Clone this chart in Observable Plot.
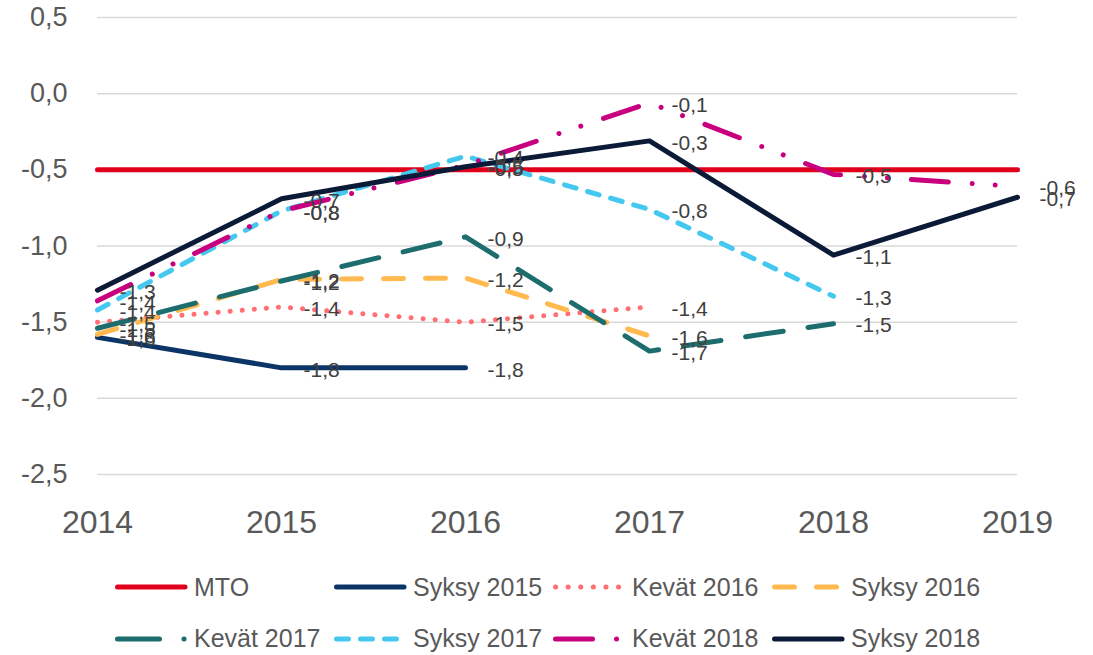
<!DOCTYPE html>
<html>
<head>
<meta charset="utf-8">
<script src="https://cdn.jsdelivr.net/npm/d3@7"></script>
<script src="https://cdn.jsdelivr.net/npm/@observablehq/plot@0.6"></script>
<style>
  body { margin: 0; background: #fff; }
  #chart svg { display: block; }
  #legend svg { display: block; }
</style>
</head>
<body>
<div id="chart"></div>
<div id="legend"></div>
<script>
// ---- data ----
const years = [2014, 2015, 2016, 2017, 2018, 2019];
const yTicks = [-2.5, -2.0, -1.5, -1.0, -0.5, 0.0, 0.5];

const seriesNames = ["MTO", "Syksy 2015", "Kevät 2016", "Syksy 2016", "Kevät 2017", "Syksy 2017", "Kevät 2018", "Syksy 2018"];

const mto       = [-0.5, -0.5, -0.5, -0.5, -0.5, -0.5];
const syksy2015 = [-1.60, -1.80, -1.80, null, null, null];
const kevat2016 = [-1.50, -1.40, -1.50, -1.40, null, null];
const syksy2016 = [-1.58, -1.22, -1.21, -1.59, null, null];
const kevat2017 = [-1.54, -1.23, -0.94, -1.69, -1.51, null];
const syksy2017 = [-1.42, -0.77, -0.41, -0.76, -1.33, null];
const kevat2018 = [-1.36, -0.77, -0.47, -0.06, -0.53, -0.61];
const syksy2018 = [-1.29, -0.69, -0.48, -0.31, -1.06, -0.68];

const seriesValues = [mto, syksy2015, kevat2016, syksy2016, kevat2017, syksy2017, kevat2018, syksy2018];

// ---- styles ----
const styles = [
  {color: "#E0001B", dash: null,                         legendDash: null,                         labels: false},
  {color: "#0B3566", dash: null,                         legendDash: null,                         labels: true},
  {color: "#FF6F73", dash: "0.1 12",                     legendDash: "0.1 12.5",                   labels: true},
  {color: "#FFB94F", dash: "20 22",                      legendDash: "20 22",                      labels: true},
  {color: "#1E6D6E", dash: "38 25",                      legendDash: "42 24.5 0.1 30",             labels: true},
  {color: "#45C8F0", dash: "12 12",                      legendDash: "12 12",                      labels: true},
  {color: "#C8007E", dash: "37 24 0.01 23 0.01 24",      legendDash: "37 24 0.01 40",              labels: true},
  {color: "#0B1A36", dash: null,                         legendDash: null,                         labels: true}
];

const fmt = v => v.toFixed(1).replace(".", ",");

const rows = [];
seriesNames.forEach((name, i) => {
  seriesValues[i].forEach((v, j) => {
    if (v !== null) rows.push({series: name, idx: i, year: years[j], value: v});
  });
});

const FONT = "'Liberation Sans', Arial, sans-serif";

const lineMarks = seriesNames.map((name, i) =>
  Plot.line(rows.filter(d => d.idx === i), {
    x: "year", y: "value",
    stroke: styles[i].color,
    strokeWidth: 5,
    strokeLinecap: "round",
    strokeLinejoin: "round",
    strokeDasharray: styles[i].dash ?? undefined
  })
);

const labelRows = rows.filter(d => styles[d.idx].labels);

const chart = Plot.plot({
  width: 1093,
  height: 545,
  marginLeft: 97,
  marginRight: 76,
  marginTop: 17,
  marginBottom: 71,
  style: {fontFamily: FONT, background: "#fff"},
  x: {type: "linear", domain: [2014, 2019]},
  y: {domain: [-2.5, 0.5]},
  marks: [
    Plot.gridY(yTicks, {stroke: "#d9d9d9", strokeOpacity: 1, strokeWidth: 1.5}),
    Plot.axisY(yTicks, {tickFormat: fmt, tickSize: 0, tickPadding: 30, fontSize: 27, color: "#595959", label: null}),
    Plot.axisX(years, {tickFormat: d => String(d), tickSize: 0, tickPadding: 36, fontSize: 32, color: "#595959", label: null}),
    ...lineMarks,
    Plot.text(labelRows, {
      x: "year", y: "value",
      text: d => fmt(d.value),
      dx: 22, dy: 2,
      textAnchor: "start",
      lineAnchor: "middle",
      fontSize: 21,
      fill: "#404040"
    })
  ]
});
document.getElementById("chart").appendChild(chart);

// ---- legend ----
const lg = d3.select("#legend").append("svg")
  .attr("width", 1093).attr("height", 110)
  .style("font-family", FONT);

seriesNames.forEach((name, i) => {
  const col = i % 4, row = Math.floor(i / 4);
  const x0 = 115 + col * 219;
  const yLine = row === 0 ? 42 : 94;
  const yText = row === 0 ? 51 : 102;
  const g = lg.append("g");
  const p = g.append("path")
    .attr("d", `M${x0 + 2.5},${yLine}H${x0 + 70}`)
    .attr("stroke", styles[i].color)
    .attr("stroke-width", 5)
    .attr("stroke-linecap", "round")
    .attr("fill", "none");
  if (styles[i].legendDash) p.attr("stroke-dasharray", styles[i].legendDash);
  g.append("text")
    .attr("x", x0 + 79)
    .attr("y", yText)
    .attr("font-size", 25)
    .attr("fill", "#595959")
    .text(name);
});
</script>
</body>
</html>
